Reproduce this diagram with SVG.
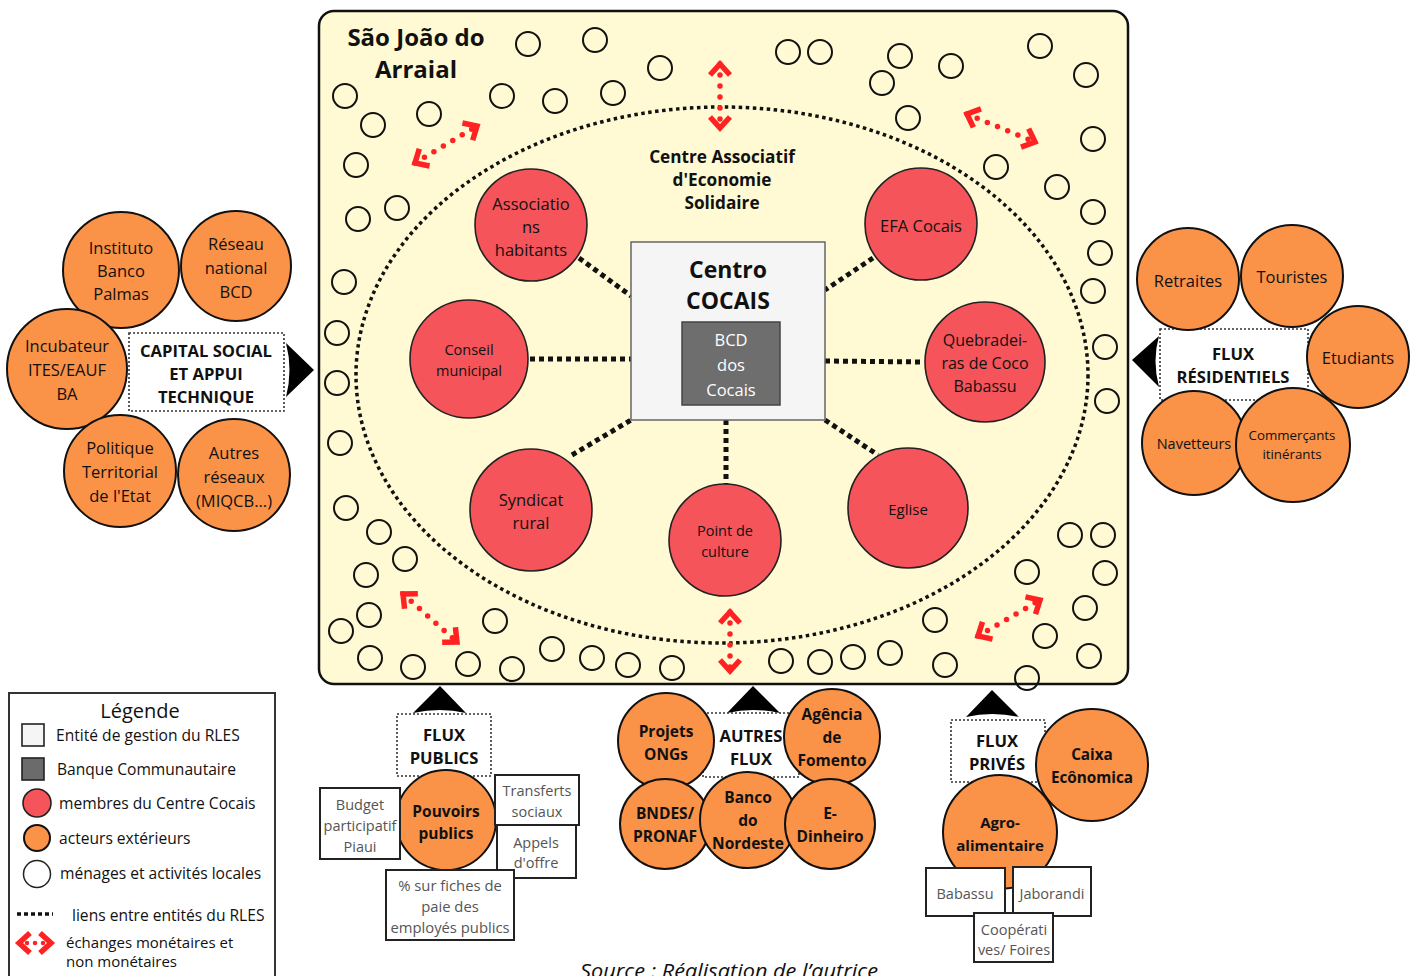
<svg xmlns="http://www.w3.org/2000/svg" width="1417" height="976" viewBox="0 0 1417 976">
<defs>
<style>
text{font-family:"Open Sans","Noto Sans","Liberation Sans",sans-serif;fill:#111;text-anchor:middle;dominant-baseline:central}
.b{font-weight:bold}
.h{font-weight:bold;font-size:16.6px}
.c{font-weight:bold;font-size:15.5px}
.red{fill:#f5545a;stroke:#222;stroke-width:1.6}
.org{fill:#fa9248;stroke:#111;stroke-width:2}
.hh{fill:none;stroke:#111;stroke-width:2}
.dot{fill:none;stroke:#111;stroke-width:5;stroke-dasharray:5 4}
.fbox{fill:#fff;stroke:#333;stroke-width:1.6;stroke-dasharray:2 2}
.wbox{fill:#fff;stroke:#222;stroke-width:2}
.g{fill:#555}
.xch{fill:none;stroke:#f22;stroke-width:5.5;stroke-linecap:round;stroke-dasharray:0 11;marker-start:url(#chev);marker-end:url(#chev)}
.tri{fill:#000}
.l{text-anchor:start}
</style>
<marker id="chev" markerUnits="userSpaceOnUse" viewBox="-15 -13 20 26" refX="0" refY="0" markerWidth="20" markerHeight="26" orient="auto-start-reverse">
<path d="M-11,-10 L0,0 L-11,10" fill="none" stroke="#f22" stroke-width="5.5" stroke-linejoin="miter"/>
</marker>
</defs>

<g id="territoire">
<rect x="319" y="11" width="809" height="673" rx="15" fill="#fffad3" stroke="#111" stroke-width="2.5"/>
<text x="416" y="36" class="b" font-size="24">São João do</text>
<text x="416" y="68" class="b" font-size="24">Arraial</text>
</g>

<g id="menages">
<circle class="hh" cx="528" cy="44" r="12"/><circle class="hh" cx="595" cy="40" r="12"/><circle class="hh" cx="660" cy="68" r="12"/>
<circle class="hh" cx="613" cy="93" r="12"/><circle class="hh" cx="555" cy="101" r="12"/><circle class="hh" cx="502" cy="96" r="12"/>
<circle class="hh" cx="345" cy="96" r="12"/><circle class="hh" cx="373" cy="125" r="12"/><circle class="hh" cx="429" cy="114" r="12"/>
<circle class="hh" cx="356" cy="165" r="12"/><circle class="hh" cx="358" cy="219" r="12"/><circle class="hh" cx="397" cy="208" r="12"/>
<circle class="hh" cx="788" cy="52" r="12"/><circle class="hh" cx="820" cy="52" r="12"/><circle class="hh" cx="900" cy="56" r="12"/>
<circle class="hh" cx="882" cy="83" r="12"/><circle class="hh" cx="951" cy="66" r="12"/><circle class="hh" cx="1040" cy="46" r="12"/>
<circle class="hh" cx="1086" cy="75" r="12"/><circle class="hh" cx="908" cy="118" r="12"/><circle class="hh" cx="1093" cy="139" r="12"/>
<circle class="hh" cx="996" cy="167" r="12"/><circle class="hh" cx="1057" cy="187" r="12"/><circle class="hh" cx="1093" cy="212" r="12"/>
<circle class="hh" cx="1100" cy="253" r="12"/><circle class="hh" cx="1093" cy="291" r="12"/><circle class="hh" cx="1105" cy="347" r="12"/>
<circle class="hh" cx="1107" cy="401" r="12"/>
<circle class="hh" cx="344" cy="282" r="12"/><circle class="hh" cx="337" cy="333" r="12"/><circle class="hh" cx="337" cy="383" r="12"/>
<circle class="hh" cx="340" cy="443" r="12"/><circle class="hh" cx="346" cy="508" r="12"/><circle class="hh" cx="379" cy="532" r="12"/>
<circle class="hh" cx="405" cy="559" r="12"/><circle class="hh" cx="366" cy="575" r="12"/><circle class="hh" cx="369" cy="615" r="12"/>
<circle class="hh" cx="341" cy="631" r="12"/><circle class="hh" cx="370" cy="658" r="12"/><circle class="hh" cx="413" cy="667" r="12"/>
<circle class="hh" cx="468" cy="664" r="12"/><circle class="hh" cx="495" cy="621" r="12"/><circle class="hh" cx="512" cy="669" r="12"/>
<circle class="hh" cx="552" cy="649" r="12"/><circle class="hh" cx="592" cy="658" r="12"/><circle class="hh" cx="628" cy="665" r="12"/>
<circle class="hh" cx="672" cy="668" r="12"/><circle class="hh" cx="781" cy="661" r="12"/><circle class="hh" cx="820" cy="662" r="12"/>
<circle class="hh" cx="853" cy="657" r="12"/><circle class="hh" cx="890" cy="653" r="12"/><circle class="hh" cx="945" cy="665" r="12"/>
<circle class="hh" cx="935" cy="620" r="12"/><circle class="hh" cx="1027" cy="678" r="12"/><circle class="hh" cx="1045" cy="636" r="12"/>
<circle class="hh" cx="1089" cy="656" r="12"/><circle class="hh" cx="1085" cy="608" r="12"/><circle class="hh" cx="1027" cy="572" r="12"/>
<circle class="hh" cx="1105" cy="573" r="12"/><circle class="hh" cx="1070" cy="535" r="12"/><circle class="hh" cx="1103" cy="535" r="12"/>
</g>

<g id="centre-associatif">
<ellipse cx="722" cy="375" rx="366" ry="268" fill="none" stroke="#111" stroke-width="3.5" stroke-dasharray="3.5 3.5"/>
<text x="722" y="156" class="b" font-size="17.2">Centre Associatif</text>
<text x="722" y="179" class="b" font-size="17.2">d'Economie</text>
<text x="722" y="202" class="b" font-size="17.2">Solidaire</text>
</g>

<g id="connectors">
<line class="dot" x1="579" y1="258" x2="631" y2="296"/>
<line class="dot" x1="873" y1="258" x2="825" y2="290"/>
<line class="dot" x1="530" y1="359" x2="631" y2="359"/>
<line class="dot" x1="825" y1="361" x2="924" y2="362"/>
<line class="dot" x1="572" y1="455" x2="631" y2="420"/>
<line class="dot" x1="726" y1="420" x2="726" y2="484"/>
<line class="dot" x1="825" y1="420" x2="878" y2="455"/>
<line class="xch" x1="720" y1="64" x2="720" y2="128"/>
<line class="xch" x1="415" y1="163" x2="477" y2="126"/>
<line class="xch" x1="967" y1="114" x2="1035" y2="142"/>
<line class="xch" x1="403" y1="594" x2="457" y2="642"/>
<line class="xch" x1="730" y1="612" x2="730" y2="671"/>
<line class="xch" x1="978" y1="636" x2="1040" y2="600"/>
</g>

<g id="centro-cocais">
<rect x="631" y="242" width="194" height="178" fill="#f5f5f5" stroke="#666" stroke-width="1.5"/>
<text x="728" y="269" class="b" font-size="23">Centro</text>
<text x="728" y="300" class="b" font-size="23">COCAIS</text>
</g>
<g id="bcd">
<rect x="682" y="322" width="98" height="83" fill="#6e6e6e" stroke="#444" stroke-width="1.5"/>
<text x="731" y="339" font-size="16.5" style="fill:#fff">BCD</text>
<text x="731" y="364" font-size="16.5" style="fill:#fff">dos</text>
<text x="731" y="389" font-size="16.5" style="fill:#fff">Cocais</text>
</g>

<g id="associations"><circle class="red" cx="531" cy="225" r="56"/>
<text x="531" y="203" font-size="16.5">Associatio</text><text x="531" y="226" font-size="16.5">ns</text><text x="531" y="249" font-size="16.5">habitants</text></g>
<g id="efa"><circle class="red" cx="921" cy="224" r="56"/><text x="921" y="225" font-size="16.5">EFA Cocais</text></g>
<g id="conseil"><circle class="red" cx="469" cy="359" r="59"/>
<text x="469" y="349" font-size="14.5">Conseil</text><text x="469" y="370" font-size="14.5">municipal</text></g>
<g id="quebradeiras"><circle class="red" cx="985" cy="362" r="60"/>
<text x="985" y="340" font-size="16">Quebradei-</text><text x="985" y="363" font-size="16">ras de Coco</text><text x="985" y="386" font-size="16">Babassu</text></g>
<g id="syndicat"><circle class="red" cx="531" cy="510" r="61"/>
<text x="531" y="499" font-size="16.5">Syndicat</text><text x="531" y="522" font-size="16.5">rural</text></g>
<g id="point-culture"><circle class="red" cx="725" cy="540" r="56"/>
<text x="725" y="530" font-size="14.5">Point de</text><text x="725" y="551" font-size="14.5">culture</text></g>
<g id="eglise"><circle class="red" cx="908" cy="508" r="60"/><text x="908" y="509" font-size="15">Eglise</text></g>

<g id="capital-social">
<rect class="fbox" x="129" y="333" width="155" height="78"/>
<text x="206" y="350" class="h">CAPITAL SOCIAL</text>
<text x="206" y="373" class="h">ET APPUI</text>
<text x="206" y="396" class="h">TECHNIQUE</text>
<path class="tri" d="M286,343 L314,370 L286,397 Q293,370 286,343 Z"/>
</g>
<g id="instituto"><circle class="org" cx="121" cy="270" r="58"/>
<text x="121" y="247" font-size="16.5">Instituto</text><text x="121" y="270" font-size="16.5">Banco</text><text x="121" y="293" font-size="16.5">Palmas</text></g>
<g id="reseau"><circle class="org" cx="236" cy="266" r="55"/>
<text x="236" y="243" font-size="16.5">Réseau</text><text x="236" y="267" font-size="16.5">national</text><text x="236" y="291" font-size="16.5">BCD</text></g>
<g id="incubateur"><circle class="org" cx="67" cy="369" r="60"/>
<text x="67" y="345" font-size="16.5">Incubateur</text><text x="67" y="369" font-size="16.5">ITES/EAUF</text><text x="67" y="393" font-size="16.5">BA</text></g>
<g id="politique"><circle class="org" cx="120" cy="471" r="56"/>
<text x="120" y="447" font-size="16.5">Politique</text><text x="120" y="471" font-size="16.5">Territorial</text><text x="120" y="495" font-size="16.5">de l'Etat</text></g>
<g id="autres-reseaux"><circle class="org" cx="234" cy="475" r="56"/>
<text x="234" y="452" font-size="16.5">Autres</text><text x="234" y="476" font-size="16.5">réseaux</text><text x="234" y="500" font-size="16.5">(MIQCB...)</text></g>

<g id="flux-residentiels">
<rect class="fbox" x="1160" y="329" width="148" height="71"/>
<text x="1233" y="353" class="h">FLUX</text>
<text x="1233" y="376" class="h">RÉSIDENTIELS</text>
<path class="tri" d="M1159,336 L1132,360 L1159,387 Q1152,360 1159,336 Z"/>
</g>
<g id="retraites"><circle class="org" cx="1188" cy="279" r="51"/><text x="1188" y="280" font-size="16.5">Retraites</text></g>
<g id="touristes"><circle class="org" cx="1292" cy="276" r="51"/><text x="1292" y="276" font-size="16.5">Touristes</text></g>
<g id="etudiants"><circle class="org" cx="1358" cy="357" r="51"/><text x="1358" y="357" font-size="16.5">Etudiants</text></g>
<g id="navetteurs"><circle class="org" cx="1194" cy="443" r="52"/><text x="1194" y="443" font-size="14.5">Navetteurs</text></g>
<g id="commercants"><circle class="org" cx="1293" cy="445" r="57"/>
<text x="1292" y="435" font-size="13.3">Commerçants</text><text x="1292" y="454" font-size="13.3">itinérants</text></g>

<g id="flux-publics">
<path class="tri" d="M413,713 L440,686 L466,713 Q440,707 413,713 Z"/>
<rect class="fbox" x="397" y="714" width="94" height="62"/>
<text x="444" y="734" class="h">FLUX</text>
<text x="444" y="757" class="h">PUBLICS</text>
</g>
<g id="pouvoirs-publics"><circle class="org" cx="446" cy="820" r="50"/>
<text x="446" y="811" class="c">Pouvoirs</text><text x="446" y="833" class="c">publics</text></g>
<g id="budget"><rect class="wbox" x="320" y="788" width="80" height="71"/>
<text x="360" y="804" font-size="14.5" class="g">Budget</text><text x="360" y="825" font-size="14.5" class="g">participatif</text><text x="360" y="846" font-size="14.5" class="g">Piaui</text></g>
<g id="transferts"><rect class="wbox" x="495" y="775" width="84" height="50"/>
<text x="537" y="790" font-size="14.5" class="g">Transferts</text><text x="537" y="811" font-size="14.5" class="g">sociaux</text></g>
<g id="appels"><rect class="wbox" x="497" y="825" width="79" height="53"/>
<text x="536" y="842" font-size="14.5" class="g">Appels</text><text x="536" y="862" font-size="14.5" class="g">d'offre</text></g>
<g id="fiches"><rect class="wbox" x="386" y="870" width="128" height="70"/>
<text x="450" y="885" font-size="14.8" class="g">% sur fiches de</text><text x="450" y="906" font-size="14.8" class="g">paie des</text><text x="450" y="927" font-size="14.8" class="g">employés publics</text></g>

<g id="autres-flux">
<path class="tri" d="M727,713 L753,686 L780,713 Q753,707 727,713 Z"/>
<rect class="fbox" x="703" y="713" width="96" height="64"/>
<text x="751" y="735" class="h">AUTRES</text>
<text x="751" y="758" class="h">FLUX</text>
</g>
<g id="projets-ongs"><circle class="org" cx="666" cy="741" r="48"/>
<text x="666" y="731" class="c">Projets</text><text x="666" y="754" class="c">ONGs</text></g>
<g id="agencia"><circle class="org" cx="832" cy="737" r="48"/>
<text x="832" y="714" class="c">Agência</text><text x="832" y="737" class="c">de</text><text x="832" y="760" class="c">Fomento</text></g>
<g id="bndes"><circle class="org" cx="665" cy="824" r="45"/>
<text x="665" y="813" class="c">BNDES/</text><text x="665" y="836" class="c">PRONAF</text></g>
<g id="banco-nordeste"><circle class="org" cx="748" cy="820" r="48"/>
<text x="748" y="797" class="c">Banco</text><text x="748" y="820" class="c">do</text><text x="748" y="843" class="c">Nordeste</text></g>
<g id="e-dinheiro"><circle class="org" cx="830" cy="824" r="45"/>
<text x="830" y="813" class="c">E-</text><text x="830" y="836" class="c">Dinheiro</text></g>

<g id="flux-prives">
<path class="tri" d="M966,717 L992,690 L1019,717 Q992,711 966,717 Z"/>
<rect class="fbox" x="951" y="720" width="94" height="62"/>
<text x="997" y="740" class="h">FLUX</text>
<text x="997" y="763" class="h">PRIVÉS</text>
</g>
<g id="caixa"><circle class="org" cx="1092" cy="765" r="56"/>
<text x="1092" y="754" class="b" font-size="15.3">Caixa</text><text x="1092" y="777" class="b" font-size="15.3">Ecônomica</text></g>
<g id="agro"><circle class="org" cx="1000" cy="832" r="57"/>
<text x="1000" y="822" class="b" font-size="15">Agro-</text><text x="1000" y="845" class="b" font-size="15">alimentaire</text></g>
<g id="babassu"><rect class="wbox" x="926" y="868" width="79" height="48"/><text x="965" y="893" font-size="14.5" class="g">Babassu</text></g>
<g id="jaborandi"><rect class="wbox" x="1013" y="867" width="78" height="49"/><text x="1052" y="893" font-size="14.5" class="g">Jaborandi</text></g>
<g id="cooperatives"><rect class="wbox" x="974" y="913" width="79" height="49"/>
<text x="1014" y="929" font-size="14.5" class="g">Coopérati</text><text x="1014" y="949" font-size="14.5" class="g">ves/ Foires</text></g>

<g id="legende">
<rect x="9" y="693" width="266" height="290" fill="#fff" stroke="#333" stroke-width="2"/>
<text x="140" y="710" font-size="20">Légende</text>
<rect x="22" y="724" width="22" height="22" fill="#f5f5f5" stroke="#222" stroke-width="1.6"/>
<text x="56" y="735" font-size="15.6" class="l">Entité de gestion du RLES</text>
<rect x="22" y="758" width="22" height="22" fill="#6b6b6b" stroke="#222" stroke-width="1.6"/>
<text x="57" y="769" font-size="15.6" class="l">Banque Communautaire</text>
<circle cx="37" cy="803" r="14" class="red"/>
<text x="59" y="803" font-size="15.6" class="l">membres du Centre Cocais</text>
<circle cx="37" cy="838" r="13" class="org"/>
<text x="59" y="838" font-size="15.6" class="l">acteurs extérieurs</text>
<circle cx="37" cy="874" r="13.5" fill="#fff" stroke="#222" stroke-width="1.5"/>
<text x="60" y="873" font-size="15.6" class="l">ménages et activités locales</text>
<line x1="17" y1="914" x2="53" y2="914" stroke="#111" stroke-width="3.5" stroke-dasharray="4 3"/>
<text x="72" y="915" font-size="15.6" class="l">liens entre entités du RLES</text>
<line class="xch" x1="19" y1="943" x2="51" y2="943" style="stroke-dasharray:0 8;stroke-width:4.5"/>
<text x="66" y="942" font-size="15" class="l">échanges monétaires et</text>
<text x="66" y="961" font-size="15" class="l">non monétaires</text>
</g>

<text x="729" y="978" font-size="20" font-style="italic" textLength="298" lengthAdjust="spacingAndGlyphs" style="dominant-baseline:auto">Source : Réalisation de l’autrice</text>
</svg>
